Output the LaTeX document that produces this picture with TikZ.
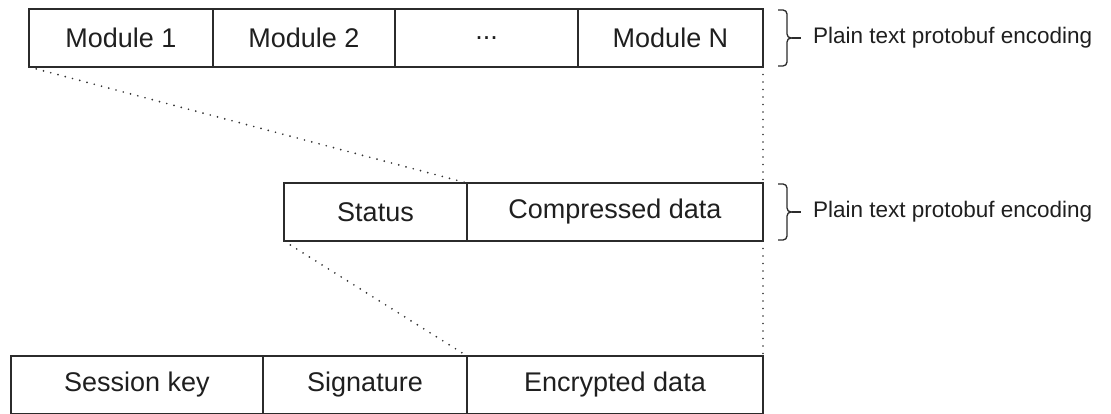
\documentclass[tikz,border=0pt]{standalone}
\usepackage{fontspec}
\setmainfont{Liberation Sans}

\definecolor{linegray}{HTML}{2B2B2B}
\definecolor{dotgray}{HTML}{333333}

\tikzset{
  cell/.style={draw=linegray, line width=1.3pt, minimum height=58pt,
    inner sep=0pt, outer sep=0pt, text=black!88,
    font=\fontsize{27}{31}\selectfont},
  zoomline/.style={draw=dotgray, line width=1.9pt, line cap=round,
    dash pattern=on 0pt off 7.5pt},
  bracket/.style={draw=linegray, line width=1.3pt, rounded corners=4pt},
  note/.style={anchor=west, inner sep=0pt, text=black!88,
    font=\fontsize{22.5}{26}\selectfont}
}

\begin{document}
\begin{tikzpicture}[x=1pt,y=-1pt]
\useasboundingbox (0,0) rectangle (1111,414);

% modules
\node[cell, minimum width=184pt] (m1) at (121,38) {Module 1};
\node[cell, minimum width=182pt] (m2) at (304,38) {Module 2};
\node[cell, minimum width=183pt] (mdots) at (486.5,38) {...};
\node[cell, minimum width=185pt] (mN) at (670.5,38) {Module N};

% status + payload
\node[cell, minimum width=183pt] (st) at (375.5,212) {Status};
\node[cell, minimum width=296pt] (cd) at (615,212) {Compressed data};

% envelope
\node[cell, minimum width=252pt] (sk) at (137,385) {Session key};
\node[cell, minimum width=204pt] (sig) at (365,385) {Signature};
\node[cell, minimum width=296pt] (ed) at (615,385) {Encrypted data};

% zoom lines
\draw[zoomline] (m1.south west) -- (cd.north west);
\draw[zoomline] (mN.south east) -- (cd.north east);
\draw[zoomline] (st.south west) -- (ed.north west);
\draw[zoomline] (cd.south east) -- (ed.north east);

% braces
\coordinate (tip1) at (792,38);
\draw[bracket] (778,10) -| (787,38) -- (tip1);
\draw[bracket] (778,66) -| (787,38) -- (tip1);
\node[note] (enc1) at (813,38) {Plain text protobuf encoding};
\draw[linegray, line width=1.3pt] (tip1) -- ([xshift=-12pt]enc1.west);

\coordinate (tip2) at (792,212);
\draw[bracket] (778,184) -| (787,212) -- (tip2);
\draw[bracket] (778,240) -| (787,212) -- (tip2);
\node[note] (enc2) at (813,212) {Plain text protobuf encoding};
\draw[linegray, line width=1.3pt] (tip2) -- ([xshift=-12pt]enc2.west);
\end{tikzpicture}
\end{document}
